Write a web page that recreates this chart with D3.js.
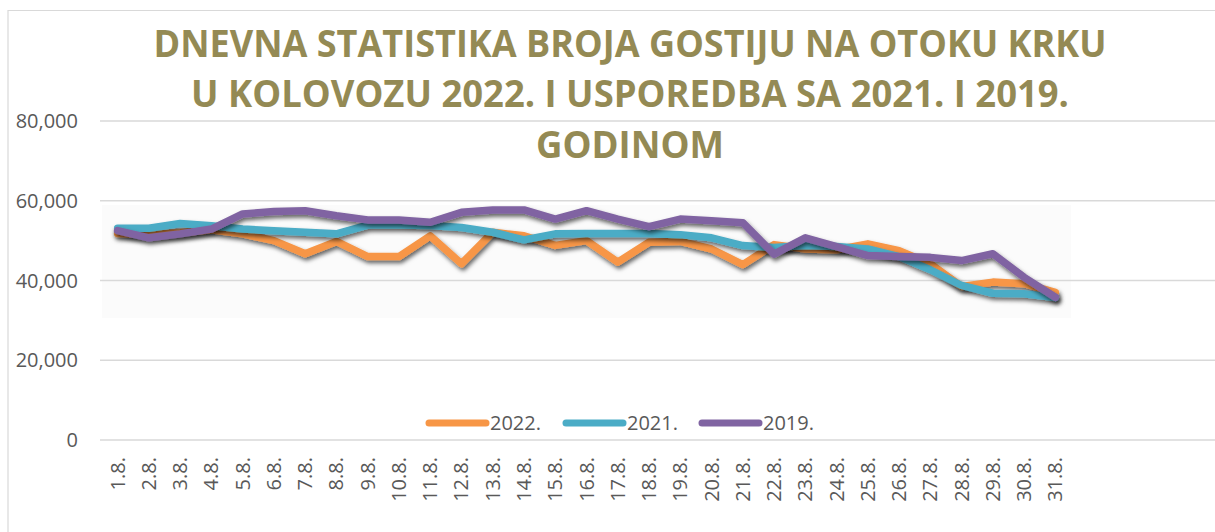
<!DOCTYPE html>
<html>
<head>
<meta charset="utf-8">
<script src="https://cdn.jsdelivr.net/npm/d3@7"></script>
<style>
  body { margin: 0; background: #fff; }
  svg { display: block; }
</style>
</head>
<body>
<div id="chart"></div>
<script>
// daily guest counts on Krk, August
const days = ["1.8.","2.8.","3.8.","4.8.","5.8.","6.8.","7.8.","8.8.","9.8.","10.8.",
  "11.8.","12.8.","13.8.","14.8.","15.8.","16.8.","17.8.","18.8.","19.8.","20.8.",
  "21.8.","22.8.","23.8.","24.8.","25.8.","26.8.","27.8.","28.8.","29.8.","30.8.","31.8."];

const y2022 = [51800,51600,52000,52700,51700,50000,46700,49800,46000,46000,
  51200,44200,52100,51200,48800,50000,44600,49600,49800,47900,
  44000,49000,47900,47700,49200,47500,44200,38500,39600,39200,37000];

const y2021 = [53100,53100,54300,53750,52900,52500,52100,51700,53900,53900,
  53800,53300,52100,50200,51700,51800,51800,51800,51500,50700,
  48750,48300,48750,48500,47900,46000,42700,38750,36800,36700,35700];

const y2019 = [52500,50700,51700,52900,56700,57300,57500,56250,55200,55200,
  54600,57100,57700,57700,55400,57500,55400,53500,55400,55000,
  54500,46600,50700,48500,46250,46000,45800,45000,46700,40800,35800];

const seriesNames = ["2022.", "2021.", "2019."];
const seriesColors = ["#F79646", "#4BACC6", "#8064A2"];
const yTicks = [0, 20000, 40000, 60000, 80000];
const titleLines = ["DNEVNA STATISTIKA BROJA GOSTIJU NA OTOKU KRKU",
  "U KOLOVOZU 2022. I USPOREDBA SA 2021. I 2019.",
  "GODINOM"];

const W = 1215, H = 532;
const svg = d3.select("#chart").append("svg")
  .attr("width", W).attr("height", H);

const defs = svg.append("defs");
const f = defs.append("filter").attr("id", "shadow")
  .attr("x", "-5%").attr("y", "-20%").attr("width", "110%").attr("height", "150%");
f.append("feDropShadow")
  .attr("dx", 1.5).attr("dy", 3).attr("stdDeviation", 2)
  .attr("flood-color", "#000").attr("flood-opacity", 0.6);

// chart border
svg.append("path")
  .attr("d", `M8,${H} V10.5 H${W}`)
  .attr("fill", "none").attr("stroke", "#d9d9d9").attr("stroke-width", 1.2);

const x = d3.scaleBand().domain(days).range([102, 1071]);
const y = d3.scaleLinear().domain([0, 80000]).range([440, 121]);
const cx = d => x(d) + x.bandwidth() / 2;

// faint plot-area tint
svg.append("rect")
  .attr("x", 102).attr("y", 205).attr("width", 969).attr("height", 113)
  .attr("fill", "#fbfbfb");

// gridlines
svg.append("g").selectAll("line")
  .data(yTicks)
  .join("line")
    .attr("x1", 100).attr("x2", W)
    .attr("y1", d => y(d)).attr("y2", d => y(d))
    .attr("stroke", "#d9d9d9").attr("stroke-width", 1.5);

// y axis labels
const fmt = d3.format(",");
svg.append("g").selectAll("text")
  .data(yTicks)
  .join("text")
    .attr("x", 78).attr("y", d => y(d))
    .attr("dy", "0.35em")
    .attr("text-anchor", "end")
    .attr("font-family", "'Open Sans', sans-serif")
    .attr("font-size", 20)
    .attr("fill", "#595959")
    .text(d => fmt(d));

// x axis labels
svg.append("g").selectAll("text")
  .data(days)
  .join("text")
    .attr("transform", d => `translate(${cx(d)},457) rotate(-90)`)
    .attr("dy", "0.35em")
    .attr("text-anchor", "end")
    .attr("font-family", "'Open Sans', sans-serif")
    .attr("font-size", 20)
    .attr("fill", "#595959")
    .text(d => d);

// lines
const series = [y2022, y2021, y2019];
const line = d3.line()
  .x((d, i) => cx(days[i]))
  .y(d => y(d));

svg.append("g").selectAll("path")
  .data(series)
  .join("path")
    .attr("d", d => line(d))
    .attr("fill", "none")
    .attr("stroke", (d, i) => seriesColors[i])
    .attr("stroke-width", 7.5)
    .attr("stroke-linejoin", "round")
    .attr("stroke-linecap", "round")
    .attr("filter", "url(#shadow)");

// legend
const legendX = [429, 566, 702];
const lg = svg.append("g").selectAll("g")
  .data(seriesNames)
  .join("g")
    .attr("transform", (d, i) => `translate(${legendX[i]},423)`);
lg.append("line")
  .attr("x1", 0).attr("x2", 57)
  .attr("stroke", (d, i) => seriesColors[i])
  .attr("stroke-width", 7)
  .attr("stroke-linecap", "round");
lg.append("text")
  .attr("x", 61).attr("y", 0).attr("dy", "0.35em")
  .attr("font-family", "'Open Sans', sans-serif")
  .attr("font-size", 20)
  .attr("fill", "#595959")
  .text(d => d);

// title
const titleY = [57, 107, 158];
const titleW = [953, 878, 188];
svg.append("g").selectAll("text")
  .data(titleLines)
  .join("text")
    .attr("x", 630).attr("y", (d, i) => titleY[i])
    .attr("text-anchor", "middle")
    .attr("font-family", "'Open Sans', sans-serif")
    .attr("font-weight", "bold")
    .attr("font-size", 38)
    .attr("fill", "#948A54")
    .text(d => d)
    .each(function(d, i) {
      const len = this.getComputedTextLength();
      if (Math.abs(len - titleW[i]) > 2) {
        d3.select(this)
          .attr("textLength", titleW[i])
          .attr("lengthAdjust", "spacingAndGlyphs");
      }
    });
</script>
</body>
</html>
